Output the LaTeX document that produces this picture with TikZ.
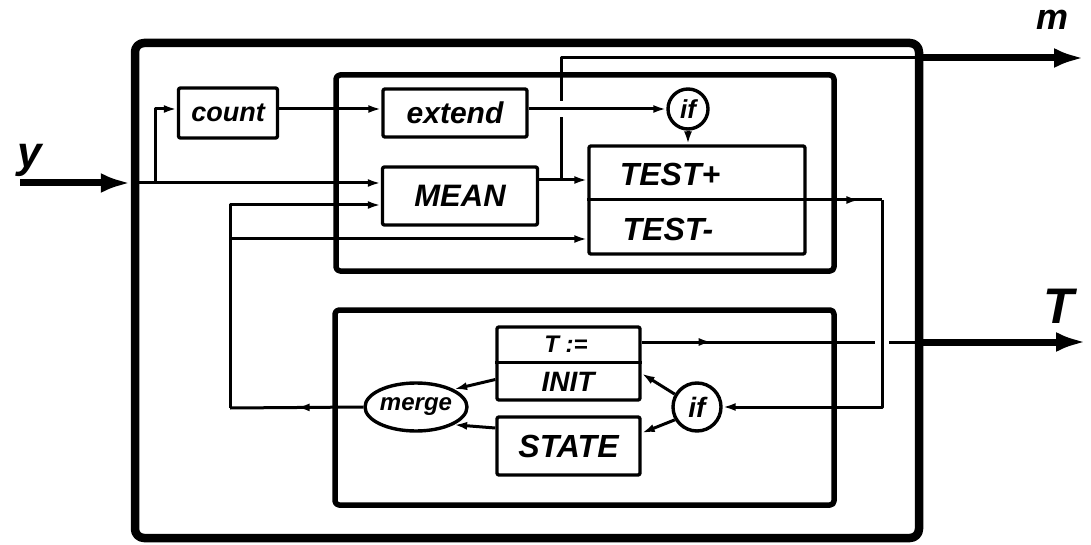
\documentclass[tikz,border=0pt]{standalone}
\usepackage{fontspec}
\setmainfont{Liberation Sans}
\usetikzlibrary{arrows.meta,decorations.markings,shapes.geometric}
\begin{document}
\begin{tikzpicture}[x=1pt,y=-1pt,line join=round,
  >={Latex[length=13pt,width=8pt]},
  ln/.style={line width=3pt},
  arr/.style={ln,->},
  midarr/.style={ln,postaction={decorate},decoration={markings,mark=at position #1 with {\arrow{>}}}},
  bigarr/.style={line width=7pt,-{Latex[length=30pt,width=20pt]}},
  hand/.style={font=\fontsize{#1}{#1}\selectfont\bfseries\itshape},
  box/.style={draw,line width=3.4pt,rounded corners=2pt,inner sep=0pt,rectangle},
  panel/.style={draw,line width=5.5pt,rounded corners=4pt,inner sep=0pt,rectangle},
  ring/.style={draw,circle,line width=3.4pt,inner sep=0pt},
]
\useasboundingbox (0,0) rectangle (1091,545);
% frames
\node[draw,line width=8.5pt,rounded corners=9pt,inner sep=0pt,minimum width=784pt,minimum height=495pt] (outer) at (527,290.5) {};
\node[panel,minimum width=498pt,minimum height=196pt] (upper) at (585,173) {};
\node[panel,minimum width=499pt,minimum height=195pt] (lower) at (584.5,407.5) {};
% upper blocks
\node[box,hand=27,minimum width=99pt,minimum height=50pt] (count) at (228,113) {count};
\node[box,hand=30,minimum width=144pt,minimum height=48pt] (extend) at (455,113) {extend};
\node[box,hand=31,minimum width=155pt,minimum height=58pt] (mean) at (460,196) {MEAN};
\node[box,minimum width=216pt,minimum height=108pt] (test) at (697,200) {};
\node[hand=32] (tplus) at (670,174) {TEST+};
\node[hand=32] (tminus) at (668,229) {TEST-};
\node[ring,minimum size=40pt,hand=26] (topif) at (688,109) {if};
% lower blocks
\node[box,minimum width=143pt,minimum height=73pt] (tinit) at (568.5,363.5) {};
\node[hand=24] (tassign) at (566,344) {T :=};
\node[hand=28] (init) at (568,382) {INIT};
\node[box,hand=32,minimum width=143pt,minimum height=58pt] (state) at (568.5,446) {STATE};
\node[ring,minimum size=48pt,hand=28] (lowif) at (697,407) {if};
\node[draw,ellipse,line width=3.4pt,minimum width=102pt,minimum height=48pt,inner sep=0pt,hand=24] (merge) at (416,407) {merge};
% external labels
\node[hand=44] (ylab) at (30,160) {y};
\node[hand=36] (mlab) at (1052,20) {m};
\node[hand=50] (tlab) at (1059,306) {T};
% coordinates
\coordinate (yin) at (20,183);
\coordinate (yb) at (135,183);
\coordinate (br) at (155,183);
\coordinate (mj) at (561,180);
\coordinate (mgap1) at (561,117);
\coordinate (mgap2) at (561,101);
\coordinate (mtop) at (561,58);
\coordinate (mexit) at (919,58);
\coordinate (mend) at (1084,58);
\coordinate (fb1) at (230,408);
\coordinate (fb2) at (230,205);
\coordinate (fb3) at (230,239);
\coordinate (tc) at (882,200);
\coordinate (tg1) at (875,342);
\coordinate (tg2) at (889,342);
\coordinate (texit) at (919,342);
\coordinate (tend) at (1086,342);
% connectors
\draw[bigarr] (yin) -- (outer.west |- yin);
\draw[arr] (yb) -- (yb -| mean.west);
\draw[arr] (br) |- ([yshift=4pt]count.west);
\draw[arr] ([yshift=4pt]count.east) -- ([yshift=4pt]extend.west);
\draw[arr] ([yshift=4pt]extend.east) -- (topif.west);
\draw[arr] (topif.south) -- (topif.south |- test.north);
\draw[arr] (mean.east |- mj) -- (test.west |- mj);
\draw[ln] (mj) -- (mgap1);
\draw[ln] (mgap2) -- (mtop) -- (mexit);
\draw[bigarr] (mexit) -- (mend);
\draw[midarr=0.5] (merge.west) -- (fb1);
\draw[arr] (fb1) -- (fb2) -- (fb2 -| mean.west);
\draw[arr] (fb3) -- (fb3 -| test.west);
\draw[ln] (test.west) -- (test.east);
\draw[midarr=0.7] (test.east) -- (tc);
\draw[arr] (tc) -- (tc |- lowif) -- (lowif.east);
\draw[ln] ([yshift=1.5pt]tinit.west) -- ([yshift=1.5pt]tinit.east);
\draw[midarr=0.3] (tg1 -| tinit.east) -- (tg1);
\draw[ln] (tg2) -- (texit);
\draw[bigarr] (texit) -- (tend);
\draw[arr] (lowif.150) -- ([yshift=-10pt]tinit.east);
\draw[arr] (lowif.210) -- ([yshift=13pt]state.east);
\draw[arr] ([yshift=-16pt]tinit.west) -- (merge.25);
\draw[arr] ([yshift=18pt]state.west) -- (merge.-25);
\end{tikzpicture}
\end{document}
